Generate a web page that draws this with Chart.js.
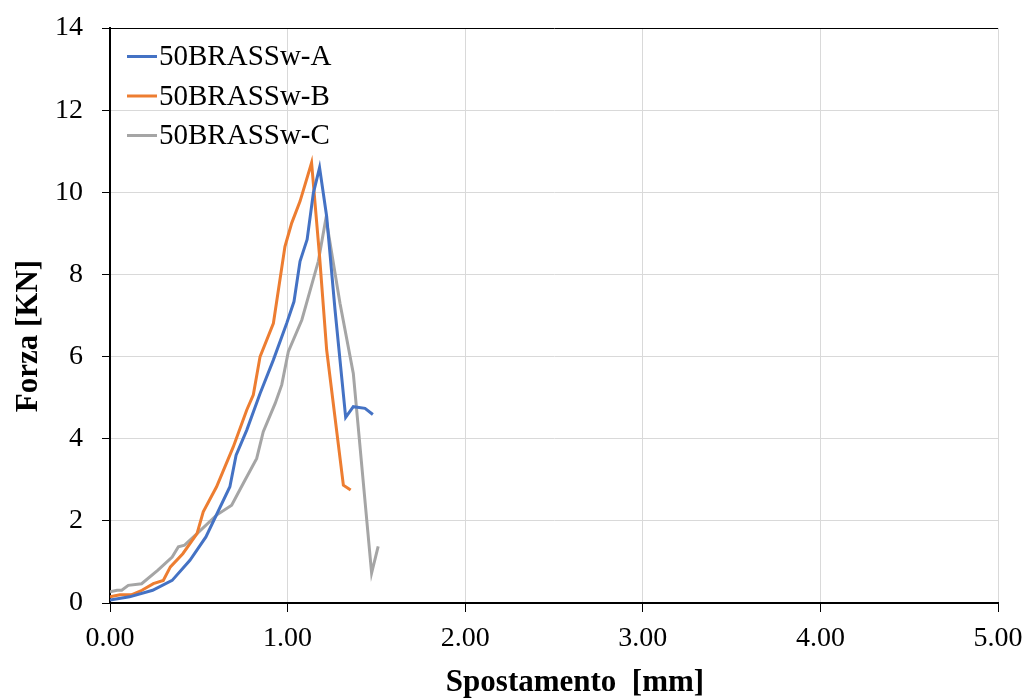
<!DOCTYPE html>
<html>
<head>
<meta charset="utf-8">
<script src="https://cdn.jsdelivr.net/npm/chart.js@4.4.0/dist/chart.umd.min.js"></script>
<style>
html,body{margin:0;padding:0;background:#fff;}
#wrap{width:1033px;height:699px;position:relative;}
</style>
</head>
<body>
<div id="wrap"><canvas id="c" width="1033" height="699"></canvas></div>
<script>
const seriesNames = ["50BRASSw-A", "50BRASSw-B", "50BRASSw-C"];
const seriesColors = ["#4472C4", "#ED7D31", "#A5A5A5"];

const xA = [0, 0.11, 0.24, 0.35, 0.45, 0.54, 0.675, 0.71, 0.77, 0.845, 0.92, 0.995, 1.036, 1.07, 1.11, 1.145, 1.18, 1.22, 1.267, 1.327, 1.37, 1.436, 1.48];
const yA = [0.07, 0.15, 0.31, 0.55, 1.04, 1.61, 2.83, 3.6, 4.21, 5.1, 5.92, 6.81, 7.34, 8.32, 8.85, 9.98, 10.6, 9.41, 7.14, 4.52, 4.78, 4.74, 4.59];

const xB = [0, 0.056, 0.12, 0.18, 0.244, 0.3, 0.34, 0.41, 0.49, 0.525, 0.6, 0.694, 0.77, 0.807, 0.845, 0.92, 0.985, 1.023, 1.07, 1.135, 1.18, 1.22, 1.314, 1.355];
const yB = [0.15, 0.2, 0.2, 0.31, 0.47, 0.55, 0.88, 1.2, 1.69, 2.22, 2.83, 3.8, 4.7, 5.07, 6.0, 6.81, 8.68, 9.25, 9.78, 10.72, 8.44, 6.16, 2.87, 2.75];

const xC = [0, 0.04, 0.066, 0.103, 0.178, 0.27, 0.35, 0.385, 0.42, 0.49, 0.6, 0.685, 0.75, 0.826, 0.863, 0.93, 0.967, 1.004, 1.08, 1.173, 1.216, 1.295, 1.37, 1.473, 1.51];
const yC = [0.27, 0.31, 0.31, 0.43, 0.47, 0.8, 1.12, 1.37, 1.41, 1.69, 2.14, 2.38, 2.91, 3.52, 4.17, 4.86, 5.31, 6.12, 6.89, 8.32, 9.37, 7.3, 5.59, 0.73, 1.38];

const xTicks = [0, 1, 2, 3, 4, 5];
const yTicks = [0, 2, 4, 6, 8, 10, 12, 14];
const xTitle = "Spostamento  [mm]";
const yTitle = "Forza [KN]";

function pts(xs, ys){ return xs.map((x,i)=>({x:x, y:ys[i]})); }
const allX = [xA, xB, xC], allY = [yA, yB, yC];

const FONT = "'Liberation Serif', 'Times New Roman', serif";

const overlayPlugin = {
  id: 'overlay',
  afterDraw(chart){
    const ctx = chart.ctx;
    const ca = chart.chartArea;
    ctx.save();
    // legend inside plot
    ctx.font = "29px " + FONT;
    ctx.textBaseline = 'middle';
    ctx.textAlign = 'left';
    ctx.fillStyle = '#000';
    chart.data.datasets.forEach((ds, i) => {
      const y = ca.top + 28.5 + i * 39.5;
      ctx.strokeStyle = ds.borderColor;
      ctx.lineWidth = 3;
      ctx.beginPath();
      ctx.moveTo(ca.left + 17, y);
      ctx.lineTo(ca.left + 47, y);
      ctx.stroke();
      ctx.fillText(ds.label, ca.left + 49, y + 1);
    });
    // axis titles
    ctx.font = "bold 31px " + FONT;
    ctx.textAlign = 'center';
    ctx.textBaseline = 'alphabetic';
    ctx.fillText(xTitle, 575, 691);
    ctx.translate(37, 336);
    ctx.rotate(-Math.PI / 2);
    ctx.fillText(yTitle, 0, 0);
    ctx.restore();
  }
};

new Chart(document.getElementById('c'), {
  type: 'line',
  data: {
    datasets: seriesNames.map((n, i) => ({
      label: n,
      data: pts(allX[i], allY[i]),
      borderColor: seriesColors[i],
      backgroundColor: seriesColors[i],
      borderWidth: 3,
      pointRadius: 0,
      tension: 0,
      fill: false
    }))
  },
  options: {
    responsive: false,
    animation: false,
    layout: { padding: { top: 28, right: 35, left: 0, bottom: 0 } },
    plugins: { legend: { display: false }, tooltip: { enabled: false } },
    scales: {
      x: {
        type: 'linear', min: 0, max: 5,
        afterBuildTicks(s){ s.ticks = xTicks.map(v => ({value: v})); },
        afterFit(s){ s.height = 96; s.paddingLeft = 0; s.paddingRight = 0; },
        ticks: {
          color: '#000', font: { family: FONT, size: 28 }, padding: 10,
          callback: v => v.toFixed(2)
        },
        grid: { color: '#d9d9d9', lineWidth: 1, tickColor: '#000', tickLength: 9, drawTicks: true },
        border: { color: '#000', width: 2 },
        title: { display: false }
      },
      y: {
        type: 'linear', min: 0, max: 14,
        afterBuildTicks(s){ s.ticks = yTicks.map(v => ({value: v})); },
        afterFit(s){ s.width = 110; s.paddingTop = 0; s.paddingBottom = 0; },
        ticks: { color: '#000', font: { family: FONT, size: 28 }, padding: 19 },
        grid: {
          color: ctx => (ctx.tick && ctx.tick.value === 14) ? '#000' : '#d9d9d9',
          lineWidth: 1, tickColor: '#000', tickLength: 8
        },
        border: { color: '#000', width: 2 },
        title: { display: false }
      }
    }
  },
  plugins: [overlayPlugin]
});
</script>
</body>
</html>
